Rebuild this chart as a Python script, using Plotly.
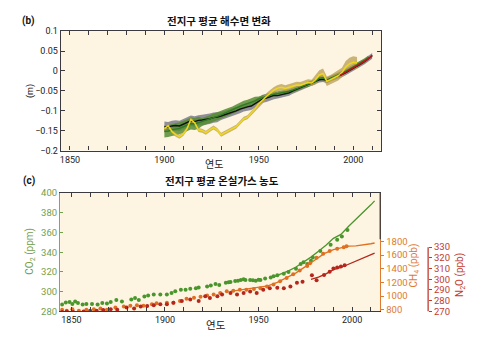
import plotly.graph_objects as go

# ---------------- (b) global mean sea level (m) ----------------
black_years = list(range(1900, 2011, 2))
black_vals = [-0.140, -0.141, -0.138, -0.137, -0.138, -0.134, -0.130, -0.125, -0.127, -0.124,
              -0.123, -0.122, -0.120, -0.117, -0.116, -0.113, -0.110, -0.107, -0.104, -0.100,
              -0.096, -0.092, -0.090, -0.088, -0.082, -0.076, -0.070, -0.068, -0.064, -0.061,
              -0.062, -0.060, -0.058, -0.055, -0.050, -0.046, -0.043, -0.038, -0.034, -0.032,
              -0.028, -0.022, -0.021, -0.024, -0.019, -0.016, -0.012, -0.009, -0.004, 0.001,
              0.007, 0.012, 0.018, 0.024, 0.031, 0.038]
black_err = [0.013, 0.013, 0.013, 0.013, 0.013, 0.013, 0.013, 0.013, 0.013, 0.013,
             0.013, 0.013, 0.013, 0.013, 0.013, 0.010, 0.010, 0.010, 0.010, 0.010,
             0.010, 0.010, 0.010, 0.010, 0.010, 0.010, 0.010, 0.010, 0.010, 0.010,
             0.007, 0.007, 0.007, 0.007, 0.007, 0.007, 0.007, 0.007, 0.007, 0.007,
             0.007, 0.007, 0.007, 0.007, 0.007, 0.007, 0.007, 0.007, 0.007, 0.007,
             0.007, 0.007, 0.007, 0.007, 0.007, 0.007]

green_years = list(range(1900, 2009, 2))
green_vals = [-0.152, -0.151, -0.148, -0.146, -0.144, -0.140, -0.136, -0.132, -0.133, -0.130,
              -0.128, -0.125, -0.121, -0.117, -0.114, -0.110, -0.106, -0.103, -0.099, -0.094,
              -0.089, -0.085, -0.082, -0.079, -0.075, -0.070, -0.066, -0.064, -0.061, -0.058,
              -0.057, -0.055, -0.054, -0.051, -0.048, -0.044, -0.041, -0.037, -0.034, -0.030,
              -0.026, -0.018, -0.017, -0.023, -0.018, -0.014, -0.010, -0.006, -0.001, 0.004,
              0.010, 0.015, 0.020, 0.026, 0.033]
green_err = [0.015, 0.015, 0.015, 0.015, 0.015, 0.015, 0.015, 0.015, 0.015, 0.015,
             0.010, 0.010, 0.010, 0.010, 0.010, 0.010, 0.010, 0.010, 0.010, 0.010,
             0.010, 0.010, 0.010, 0.010, 0.010, 0.006, 0.006, 0.006, 0.006, 0.006,
             0.006, 0.006, 0.006, 0.006, 0.006, 0.006, 0.006, 0.006, 0.006, 0.006,
             0.006, 0.006, 0.006, 0.006, 0.006, 0.006, 0.006, 0.006, 0.006, 0.006,
             0.006, 0.006, 0.006, 0.006, 0.006]

yellow_years = list(range(1900, 2003, 2))
yellow_vals = [-0.145, -0.138, -0.152, -0.160, -0.165, -0.158, -0.145, -0.122, -0.130, -0.148,
               -0.150, -0.155, -0.148, -0.142, -0.148, -0.160, -0.155, -0.150, -0.146, -0.140,
               -0.130, -0.120, -0.116, -0.106, -0.095, -0.082, -0.072, -0.064, -0.056, -0.048,
               -0.043, -0.041, -0.044, -0.041, -0.037, -0.035, -0.036, -0.032, -0.029, -0.030,
               -0.022, -0.010, -0.006, -0.026, -0.022, -0.016, -0.012, -0.004, 0.010, 0.018,
               0.022, 0.020]
yellow_err = [0.005, 0.005, 0.005, 0.005, 0.005, 0.005, 0.005, 0.005, 0.005, 0.005,
              0.005, 0.005, 0.005, 0.005, 0.005, 0.005, 0.005, 0.005, 0.005, 0.005,
              0.005, 0.005, 0.005, 0.005, 0.005, 0.008, 0.008, 0.008, 0.008, 0.008,
              0.008, 0.008, 0.008, 0.008, 0.008, 0.008, 0.008, 0.008, 0.008, 0.008,
              0.012, 0.012, 0.012, 0.012, 0.012, 0.012, 0.012, 0.012, 0.015, 0.015,
              0.015, 0.015]

sat_years = [1993, 1995, 1997, 1999, 2001, 2003, 2005, 2007, 2009, 2010]
sat_vals = [-0.011, -0.006, -0.001, 0.004, 0.010, 0.016, 0.022, 0.028, 0.034, 0.040]

sl_tickvals = [0.1, 0.05, 0, -0.05, -0.1, -0.15, -0.2]
sl_ticktext = ["0.1", "0.05", "0", "\u22120.05", "\u22120.1", "\u22120.15", "\u22120.2"]
year_ticks = [1850, 1900, 1950, 2000]

# ---------------- (c) greenhouse gas concentrations ----------------
co2_pt_years = [1845, 1847, 1849, 1850.5, 1852, 1853.5, 1856, 1858, 1861, 1864,
                1866.5, 1869, 1871, 1874, 1877, 1882, 1884, 1886, 1889, 1891,
                1894, 1897.5, 1901, 1903.5, 1905.5, 1908.5, 1911, 1913.5, 1916.5, 1918,
                1922.5, 1924.5, 1927, 1929, 1932.5, 1935, 1937.5, 1940.5, 1943, 1945.5,
                1948.5, 1951, 1953.5, 1956.5, 1958, 1960, 1963.5, 1966, 1970, 1972.5,
                1974, 1976, 1978, 1979, 1983, 1988.5, 1992, 1994.5, 1997.5,
                1934, 1939, 1942, 1947, 1950]
co2_pt_vals = [287, 289, 289.5, 287.5, 290, 288.5, 287, 287.5, 287.5, 287,
               288.5, 288, 289.5, 291.5, 290, 292, 293.5, 291.5, 295, 296,
               297, 297, 297, 298.6, 300.3, 301.9, 301.9, 302.9, 303.5, 304.2,
               305.2, 306.2, 307.8, 306.8, 309.1, 309.8, 310.7, 311.8, 311.8, 311.8,
               311.1, 311.8, 313.3, 314.3, 315.7, 316.7, 318.2, 319.9, 323.1, 328,
               329.7, 328, 331.4, 334.6, 341.2, 347.6, 352.5, 355.9, 362.4,
               309.5, 311, 312.5, 311.5, 312]
co2_line_years = [1958, 1962, 1966, 1970, 1974, 1978, 1982, 1986, 1990, 1994, 1998, 2002, 2006, 2010, 2012]
co2_line_vals = [315, 318, 321, 325, 330, 335, 341, 347, 354, 358, 366, 373, 381, 388, 392]

ch4_pt_years = [1845, 1847.5, 1850.5, 1854, 1858, 1862, 1865.5, 1869, 1873.5, 1878,
                1881.5, 1885, 1888.5, 1893, 1895.5, 1901, 1904.5, 1908, 1911.5, 1915.5,
                1919, 1922.5, 1926, 1929.5, 1933, 1936.5, 1940, 1943.5, 1947.5, 1951,
                1954.5, 1958, 1961.5, 1965, 1968.5, 1972, 1976, 1977.5, 1981, 1984.5,
                1988, 1992, 1995.5, 1997]
ch4_pt_vals = [800, 786, 809, 786, 800, 809, 819, 800, 833, 847,
               857, 866, 857, 880, 894, 904, 904, 927, 960, 975,
               990, 1010, 1022, 1045, 1069, 1078, 1092, 1092, 1102, 1116,
               1140, 1170, 1215, 1265, 1320, 1375, 1440, 1480, 1560, 1620,
               1660, 1690, 1715, 1729]
ch4_line_years = [1935, 1940, 1945, 1950, 1955, 1960, 1965, 1970, 1975, 1980, 1985, 1990, 1995, 1998, 2002, 2006, 2010, 2012]
ch4_line_vals = [1070, 1090, 1105, 1125, 1150, 1200, 1265, 1340, 1430, 1530, 1620, 1680, 1710, 1730, 1735, 1745, 1765, 1776]

n2o_pt_years = [1845, 1847.5, 1851, 1856.5, 1860, 1863.5, 1867, 1871, 1874.5, 1879.5,
                1883.5, 1887, 1890.5, 1894, 1897.5, 1901, 1904.5, 1909, 1913.5, 1918,
                1921.5, 1924, 1928, 1930.5, 1935, 1938.5, 1942, 1945.5, 1949, 1952.5,
                1956, 1960, 1963.5, 1967, 1970.5, 1973.5, 1978.5, 1981, 1985, 1988,
                1990, 1992, 1994, 1996]
n2o_pt_vals = [269.5, 270, 269.5, 270, 270.6, 270.6, 271.2, 272.1, 271.5, 273.6,
               272.7, 274.5, 275.1, 275.7, 276.7, 276.7, 278.1, 279.7, 281.2, 279.7,
               284.2, 282.6, 284.2, 285.7, 287.2, 285.7, 287.2, 288.7, 287.2, 290.2,
               291.7, 292, 291.7, 293.2, 296.8, 297.7, 303.8, 299.2, 304, 307,
               310, 311, 312, 313]
n2o_line_years = [1978, 1982, 1986, 1990, 1994, 1998, 2002, 2006, 2010, 2012]
n2o_line_vals = [300, 302, 305, 309, 311, 314, 317, 320, 323, 324.5]

co2_ticks = [280, 300, 320, 340, 360, 380, 400]
ch4_ticks = [800, 1000, 1200, 1400, 1600, 1800]
n2o_ticks = [270, 280, 290, 300, 310, 320, 330]

# ---------------- colours ----------------
C_GREEN = "#4a962c"
C_ORANGE = "#e07020"
C_RED = "#b5261c"
C_CO2_TXT = "#74a04a"
C_CH4_TXT = "#e07a2e"
C_N2O_TXT = "#c23a2e"
FRAME = "#3a3a40"
KFONT = "Noto Sans CJK KR"
TFONT = "Roboto"

fig = go.Figure()


def band(x, y, e, color):
    upper = [a + b for a, b in zip(y, e)]
    lower = [a - b for a, b in zip(y, e)]
    fig.add_trace(go.Scatter(x=x, y=upper, mode="lines", line=dict(width=0),
                             hoverinfo="skip", showlegend=False, xaxis="x", yaxis="y"))
    fig.add_trace(go.Scatter(x=x, y=lower, mode="lines", line=dict(width=0), fill="tonexty",
                             fillcolor=color, hoverinfo="skip", showlegend=False,
                             xaxis="x", yaxis="y"))


band(black_years, black_vals, black_err, "rgba(125,125,140,0.85)")
band(green_years, green_vals, green_err, "rgba(88,140,50,0.85)")
band(yellow_years, yellow_vals, yellow_err, "rgba(185,155,80,0.75)")

fig.add_trace(go.Scatter(x=black_years, y=black_vals, mode="lines",
                         line=dict(color="#111111", width=1.4), xaxis="x", yaxis="y"))
fig.add_trace(go.Scatter(x=green_years, y=green_vals, mode="lines",
                         line=dict(color="#2f7a25", width=1.4), xaxis="x", yaxis="y"))
fig.add_trace(go.Scatter(x=yellow_years, y=yellow_vals, mode="lines",
                         line=dict(color="#eed81c", width=1.5), xaxis="x", yaxis="y"))
fig.add_trace(go.Scatter(x=sat_years, y=sat_vals, mode="lines",
                         line=dict(color="#c8101a", width=1.6), xaxis="x", yaxis="y"))

# greenhouse gases
fig.add_trace(go.Scatter(x=n2o_line_years, y=n2o_line_vals, mode="lines",
                         line=dict(color=C_RED, width=1.3), xaxis="x2", yaxis="y4"))
fig.add_trace(go.Scatter(x=n2o_pt_years, y=n2o_pt_vals, mode="markers",
                         marker=dict(color=C_RED, size=4), xaxis="x2", yaxis="y4"))
fig.add_trace(go.Scatter(x=ch4_line_years, y=ch4_line_vals, mode="lines",
                         line=dict(color=C_ORANGE, width=1.3), xaxis="x2", yaxis="y3"))
fig.add_trace(go.Scatter(x=ch4_pt_years, y=ch4_pt_vals, mode="markers",
                         marker=dict(color=C_ORANGE, size=4), xaxis="x2", yaxis="y3"))
fig.add_trace(go.Scatter(x=co2_line_years, y=co2_line_vals, mode="lines",
                         line=dict(color=C_GREEN, width=1.3), xaxis="x2", yaxis="y2"))
fig.add_trace(go.Scatter(x=co2_pt_years, y=co2_pt_vals, mode="markers",
                         marker=dict(color=C_GREEN, size=4), xaxis="x2", yaxis="y2"))

W, H = 488, 337
top_x = [60 / W, 381 / W]
top_y = [1 - 149.5 / H, 1 - 26 / H]
bot_x = [59.3 / W, 380 / W]
bot_y = [1 - 315.7 / H, 1 - 193.3 / H]
n2o_pos = 428 / W

xcommon = dict(tickvals=year_ticks, ticks="inside", ticklen=4, tickcolor=FRAME,
               showline=True, linecolor=FRAME, linewidth=1.3, mirror="ticks",
               showgrid=False, zeroline=False,
               minor=dict(dtick=10, ticks="inside", ticklen=4, tickcolor=FRAME, showgrid=False),
               tickfont=dict(family=TFONT, size=9, color="#222"))

fig.update_layout(
    width=W, height=H, autosize=False,
    margin=dict(l=0, r=0, t=0, b=0),
    paper_bgcolor="white", plot_bgcolor="#fdf5e2",
    showlegend=False,
    xaxis=dict(domain=top_x, anchor="y", range=[1845.2, 2014.8], **xcommon),
    yaxis=dict(domain=top_y, anchor="x", range=[-0.2, 0.1], tickvals=sl_tickvals,
               ticktext=sl_ticktext, ticks="inside", ticklen=4, tickcolor=FRAME,
               showline=True, linecolor=FRAME, linewidth=1.3, mirror="ticks",
               showgrid=False, zeroline=False,
               tickfont=dict(family=TFONT, size=9, color="#222")),
    xaxis2=dict(domain=bot_x, anchor="y2", range=[1844, 2015], **xcommon),
    yaxis2=dict(domain=bot_y, anchor="x2", range=[280, 400], tickvals=co2_ticks,
                ticks="inside", ticklen=3, tickcolor=C_CO2_TXT,
                showline=True, linecolor="#8aa070", linewidth=1.3,
                showgrid=False, zeroline=False,
                tickfont=dict(family=TFONT, size=9.5, color=C_CO2_TXT)),
    yaxis3=dict(overlaying="y2", side="right", anchor="x2", range=[776, 2507],
                tickvals=ch4_ticks, ticks="outside", ticklen=3, tickcolor=C_CH4_TXT,
                showline=True, linecolor=C_CH4_TXT, linewidth=1.3,
                showgrid=False, zeroline=False,
                tickfont=dict(family=TFONT, size=9.5, color=C_CH4_TXT)),
    yaxis4=dict(overlaying="y2", side="right", anchor="free", position=n2o_pos,
                range=[270, 380.6], tickvals=n2o_ticks, ticks="outside", ticklen=3,
                tickcolor=C_N2O_TXT, showline=False, showgrid=False, zeroline=False,
                tickfont=dict(family=TFONT, size=9.5, color=C_N2O_TXT)),
    shapes=[
        dict(type="line", xref="paper", yref="y3", x0=bot_x[1], x1=bot_x[1],
             y0=1830, y1=2507, line=dict(color=FRAME, width=1.3)),
        dict(type="line", xref="paper", yref="y4", x0=n2o_pos, x1=n2o_pos,
             y0=270, y1=330, line=dict(color=C_N2O_TXT, width=1.3)),
    ],
)

ann = [
    dict(text="<b>(b)</b>", x=28 / W, y=1 - 15 / H, font=dict(family=TFONT, size=10, color="#111")),
    dict(text="<b>전지구 평균 해수면 변화</b>", x=218 / W, y=1 - 15 / H,
         font=dict(family=KFONT, size=10.5, color="#111")),
    dict(text="연도", x=213 / W, y=1 - 163 / H, font=dict(family=KFONT, size=10, color="#222")),
    dict(text="(m)", x=29 / W, y=1 - 88 / H, textangle=-90,
         font=dict(family=TFONT, size=9, color="#222")),
    dict(text="<b>(c)</b>", x=28 / W, y=1 - 181 / H, font=dict(family=TFONT, size=10, color="#111")),
    dict(text="<b>전지구 평균 온실가스 농도</b>", x=221 / W, y=1 - 180 / H,
         font=dict(family=KFONT, size=10.5, color="#111")),
    dict(text="연도", x=215 / W, y=1 - 329 / H, font=dict(family=KFONT, size=10.5, color="#222")),
    dict(text="CO<sub>2</sub> (ppm)", x=30 / W, y=1 - 253 / H, textangle=-90,
         font=dict(family=TFONT, size=10, color=C_CO2_TXT)),
    dict(text="CH<sub>4</sub> (ppb)", x=414 / W, y=1 - 268 / H, textangle=-90,
         font=dict(family=TFONT, size=10, color=C_CH4_TXT)),
    dict(text="N<sub>2</sub>O (ppb)", x=461 / W, y=1 - 278 / H, textangle=-90,
         font=dict(family=TFONT, size=10, color=C_N2O_TXT)),
]
for a in ann:
    fig.add_annotation(xref="paper", yref="paper", showarrow=False,
                       xanchor="center", yanchor="middle", **a)

fig.write_html("out.html")
